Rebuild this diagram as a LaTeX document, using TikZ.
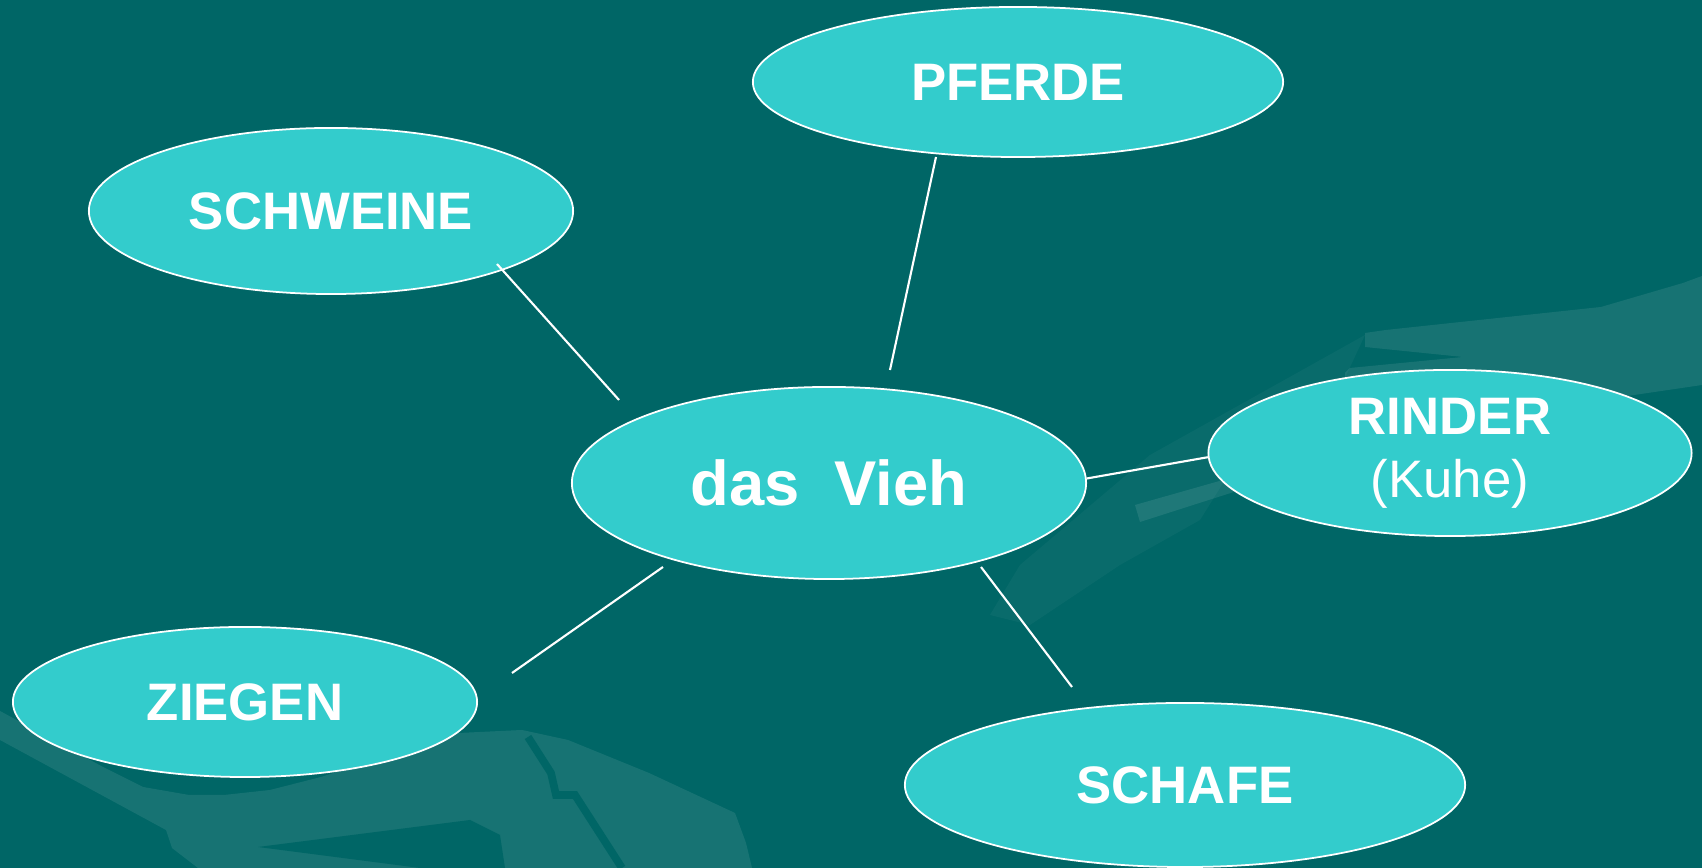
\documentclass[tikz,border=0pt]{standalone}
\usepackage{fontspec}
\setmainfont{Liberation Sans}
\usepackage{tikz}
\usepackage{xcolor}
\usetikzlibrary{shapes.geometric, positioning, calc}

\definecolor{bgteal}{RGB}{0,102,102}
\definecolor{blobfill}{RGB}{51,204,204}

\tikzset{
  blob/.style={ellipse, draw=white, line width=0.5pt, fill=blobfill, inner sep=0pt,
    text=white, font=\bfseries\fontsize{15}{18}\selectfont},
  link/.style={draw=white, line width=0.6pt},
  hand/.style={fill=white, fill opacity=0.09, draw=none},
}

\begin{document}
\begin{tikzpicture}[x=0.01cm, y=-0.01cm]
\useasboundingbox (0,0) rectangle (1702,868);
\fill[bgteal] (0,0) rectangle (1702,868);

% faint hands in the background
\begin{scope}
\clip (0,0) rectangle (1702,868);
\fill[hand] (0,711) -- (103,767) -- (143,787) -- (189,795) -- (224,795) -- (270,790)
  -- (321,777) -- (459,733) -- (522,730) -- (568,740) -- (649,773) -- (735,813)
  -- (746,843) -- (752,868) -- (198,868) -- (172,848) -- (166,830) -- (0,740) -- cycle;
\fill[bgteal] (258,847) -- (470,820) -- (500,835) -- (505,868) -- (420,868) -- cycle;
\draw[bgteal, line width=2.2pt] (528,737) -- (551,773) -- (556,795) -- (575,795) -- (622,868);
\fill[hand] (1365,333) -- (1386,330) -- (1601,307) -- (1683,283) -- (1702,276)
  -- (1702,385) -- (1600,400) -- (1450,400) -- (1345,385) -- (1345,373)
  -- (1350,368) -- (1463,357) -- (1365,347) -- cycle;
\fill[white, fill opacity=0.035] (990,615) -- (1020,565) -- (1150,455) -- (1365,335)
  -- (1345,378) -- (1250,440) -- (1200,520) -- (1120,565) -- (1030,625) -- cycle;
\fill[hand] (1135,505) -- (1230,478) -- (1240,490) -- (1140,522) -- cycle;
\end{scope}

% Six ellipses
\node[blob, minimum width=5.30cm, minimum height=1.50cm] (pferde) at (1018,82) {PFERDE};
\node[blob, minimum width=4.84cm, minimum height=1.66cm] (schweine) at (331,211) {SCHWEINE};
\node[blob, minimum width=5.14cm, minimum height=1.92cm,
  font=\bfseries\fontsize{18}{22}\selectfont] (vieh) at (829,483) {das~~Vieh};
\node[blob, minimum width=4.83cm, minimum height=1.66cm, align=center] (rinder)
  at (1450,453) {RINDER\\{\mdseries (Kuhe)}};
\node[blob, minimum width=4.64cm, minimum height=1.50cm] (ziegen) at (245,702) {ZIEGEN};
\node[blob, minimum width=5.60cm, minimum height=1.64cm] (schafe) at (1185,785) {SCHAFE};

% Line ends
\coordinate (schweine-a) at (497,264);
\coordinate (schweine-b) at (619,400);
\coordinate (pferde-a) at (936,157);
\coordinate (pferde-b) at (890,370);
\coordinate (ziegen-a) at (663,567);
\coordinate (ziegen-b) at (512,673);
\coordinate (schafe-a) at (981,567);
\coordinate (schafe-b) at (1072,687);

\draw[link] (schweine-a) -- (schweine-b);
\draw[link] (pferde-a) -- (pferde-b);
\draw[link] (vieh.1.5) -- (rinder.181.5);
\draw[link] (ziegen-a) -- (ziegen-b);
\draw[link] (schafe-a) -- (schafe-b);
\end{tikzpicture}
\end{document}
